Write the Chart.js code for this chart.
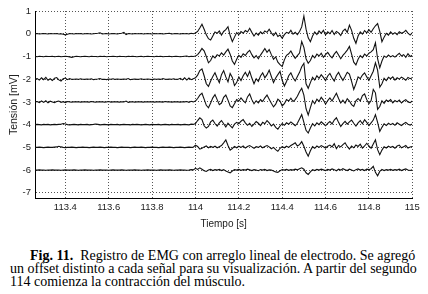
<!DOCTYPE html>
<html><head><meta charset="utf-8">
<script src="https://cdn.jsdelivr.net/npm/chart.js@4.4.1/dist/chart.umd.min.js"></script>
<style>
html,body{margin:0;padding:0;background:#fff;}
#wrap{position:absolute;left:0;top:0;width:428px;height:230px;}
#cap{position:absolute;left:10px;top:249px;width:403px;font-family:"Liberation Serif","Times New Roman",serif;font-size:14px;line-height:13px;color:#000;}
#cap div{white-space:nowrap;}
#cap .j{text-align:justify;text-align-last:justify;}
</style></head><body>
<div id="wrap"><canvas id="c" width="428" height="230"></canvas></div>
<div id="cap">
<div class="j" style="padding-left:20px"><b>Fig. 11.</b>&nbsp; Registro de EMG con arreglo lineal de electrodo. Se agregó</div>
<div class="j">un offset distinto a cada señal para su visualización. A partir del segundo</div>
<div>114 comienza la contracción del músculo.</div>
</div>
<script>
// Signal deviations in hundredths of mV, sampled every 0.01 s
// "Rest" = before 114 s (ends at 113.99 s), "Act" = 114.00 .. 115.00 s
const ch0Rest=[0,1,-1,0,1,0,-1,1,0,0,1,-1,0,-2,-5,-2,1,0,-1,1,0,1,-1,0,1,0,-1,0,1,2,4,-1,0,1,-1,0,1,0,-1,1,2,6,-4,1,0,-1,1,0,0,1,-1,0,1,0,-1,1,0,0,1,-1,0,1,2,-1,0,1,0,-1,1,0,1,-1,2,0];
const ch0Act=[3,10,25,42,20,-5,-22,-28,-10,8,2,12,-6,10,18,31,-8,-35,-15,5,-4,10,2,14,8,24,6,-10,3,-6,8,0,12,6,20,4,-8,5,-12,-6,-20,-4,6,2,15,-2,6,-4,10,30,78,20,-18,-35,-10,8,-4,12,2,15,-5,8,0,14,-3,10,4,-8,12,20,6,38,15,-20,-42,-10,8,-2,14,4,18,6,22,35,45,10,-35,-15,2,-6,8,-2,5,-4,9,2,6,15,3,-6,4];
const ch1Rest=[0,-1,1,0,-1,1,0,0,1,-1,0,1,-1,0,1,0,-2,-4,-1,1,0,-1,0,1,0,-1,1,0,0,-1,1,0,1,-1,0,0,1,0,-1,1,0,0,-1,1,0,1,0,-1,0,1,-1,0,1,0,0,-1,1,0,1,-1,0,0,1,-1,0,1,0,-1,0,1,2,-1,1,0];
const ch1Act=[2,8,20,35,25,0,-28,-18,2,-6,8,2,16,6,20,32,10,-20,-35,-12,5,-4,12,4,18,27,8,-6,4,-10,6,20,35,18,30,8,-12,-2,-25,-36,-44,-15,5,12,24,6,-8,4,15,66,40,-10,-30,-18,4,-6,10,2,14,-4,8,18,4,-6,10,22,6,-10,5,16,28,44,10,-25,-37,-12,4,-5,10,2,14,20,30,60,-10,-50,-20,2,-4,6,-2,4,-3,6,14,2,8,-4,12,0,5];
const ch2Rest=[0,3,-4,6,-2,8,-5,2,-6,4,7,-3,-8,2,5,-2,3,-1,0,1,-1,2,0,-1,1,0,2,-2,0,1,3,-1,0,-2,1,0,2,-1,1,0,-1,1,0,3,-2,0,1,-1,0,2,-1,0,1,0,-2,1,0,1,-1,3,0,-1,1,0,2,-1,0,4,-3,6,-4,5,-2,2];
const ch2Act=[6,18,38,45,15,-20,-32,-8,12,28,5,-15,20,38,10,-12,25,8,-28,-15,10,-6,15,30,12,35,5,-20,2,-10,14,28,6,20,40,12,-15,5,20,34,-5,-30,-10,15,28,6,-8,12,30,55,70,-20,-40,-15,8,-4,15,4,20,8,-6,14,25,6,-8,16,30,10,-5,12,30,22,-10,-45,-20,10,2,18,28,10,-5,15,35,72,40,-35,-20,4,-6,8,2,10,-4,6,0,9,3,-5,8,2,6];
const ch3Rest=[0,2,-3,4,-2,5,-4,3,0,-3,2,4,-2,1,-3,2,0,-1,1,0,1,-1,0,1,0,-1,2,0,-1,1,0,1,-1,0,2,-1,0,1,0,-1,1,0,4,-2,0,1,-1,0,1,0,-1,1,0,0,1,-1,0,1,0,-1,2,0,1,-1,0,1,0,-1,1,0,2,-2,3,0];
const ch3Act=[4,15,30,38,12,-15,-26,-5,18,32,10,-12,-5,20,30,8,-18,-25,-8,10,4,18,6,-4,22,35,10,-8,5,-4,10,2,18,30,12,-6,-22,-10,12,4,-18,-8,10,4,16,2,10,25,45,60,30,-30,-57,-25,5,-8,12,2,20,8,-10,6,18,4,22,38,15,-5,8,-6,14,4,-12,-20,5,15,4,28,35,10,-8,6,55,40,-33,-20,5,-6,8,2,10,-4,6,0,8,-5,4,10,0,-3,4];
const ch4Rest=[0,1,0,-1,1,0,1,-1,0,1,0,1,2,5,3,0,-1,0,1,0,-1,1,0,0,1,-1,0,1,3,1,-1,0,1,0,-1,1,0,0,1,-1,0,1,0,0,-1,1,0,1,0,-1,0,1,0,-1,1,0,0,1,-1,0,1,0,-1,1,0,0,1,-1,0,1,0,-1,2,1];
const ch4Act=[5,18,30,22,-5,-15,-8,12,20,5,-6,8,18,4,-10,6,-4,-14,2,10,4,15,22,8,-3,6,-8,2,14,6,-4,10,4,18,8,-6,2,-12,-20,-6,5,-3,8,2,12,4,-5,6,25,44,10,-25,-37,-15,4,-6,8,0,12,4,-5,6,14,3,20,30,10,-8,4,14,2,12,20,6,-6,8,18,4,22,10,-4,8,20,44,10,-30,-12,4,-4,6,0,5,-3,8,2,-4,4,10,2,-2,3];
const ch5Rest=[0,0,1,0,-1,0,1,0,0,1,2,5,2,0,-1,0,0,1,0,-1,0,0,1,0,0,-1,0,1,0,0,1,0,-1,0,0,1,0,0,-1,0,1,0,0,0,-1,0,1,0,0,1,0,-1,0,0,1,0,0,-1,0,1,0,0,1,0,-1,0,0,1,0,-1,0,1,0,1];
const ch5Act=[10,4,-8,-4,2,6,-2,4,0,5,-2,3,8,20,33,8,-12,-5,4,-2,5,0,6,-3,4,8,2,-4,3,0,6,-2,4,8,2,-6,0,-10,-17,-4,3,-2,5,0,8,14,20,6,12,25,5,-20,-39,-15,3,-4,6,0,8,3,-3,5,10,2,16,-6,8,2,12,20,4,-8,6,-2,10,4,14,-3,6,18,6,-4,15,33,-10,-32,-12,3,-3,5,0,4,-4,6,10,-2,3,8,-3,2,4];
const ch6Rest=[0,0,1,0,0,-1,0,0,1,0,0,0,-1,0,1,0,0,0,1,0,-1,0,0,1,0,0,0,-1,0,0,1,0,0,0,-1,0,1,0,0,0,1,0,-1,0,0,0,1,0,0,-1,0,0,1,0,0,0,-1,0,1,0,0,0,1,0,-1,0,0,1,0,0,-1,0,2,1];
const ch6Act=[8,3,10,4,-3,-6,0,3,-2,2,0,3,-2,2,-4,-8,-12,-4,2,0,3,-1,2,0,4,1,-2,2,0,-3,2,0,3,-2,1,0,-4,-8,-10,-3,2,0,3,-1,2,0,4,1,6,10,4,-12,-19,-8,2,-2,3,0,4,1,-2,3,0,5,2,-3,4,0,6,2,-2,4,0,-4,2,5,0,3,-2,4,2,6,17,-10,-25,-6,3,-2,2,0,3,-1,2,0,4,-2,2,5,0,-2,2];

const offsets=[0,-1,-2,-3,-4,-5,-6];
const onsetTime=114.0, sampleStep=0.01;
const xTickValues=[113.4,113.6,113.8,114,114.2,114.4,114.6,114.8,115];
const xTickLabels=['113.4','113.6','113.8','114','114.2','114.4','114.6','114.8','115'];
const yTickValues=[-7,-6,-5,-4,-3,-2,-1,0,1];
const yTickLabels=['-7','-6','-5','-4','-3','-2','-1','0','1'];

const rests=[ch0Rest,ch1Rest,ch2Rest,ch3Rest,ch4Rest,ch5Rest,ch6Rest];
const acts=[ch0Act,ch1Act,ch2Act,ch3Act,ch4Act,ch5Act,ch6Act];

const datasets=offsets.map((off,k)=>{
  const r=rests[k], a=acts[k];
  const pts=r.map((v,i)=>({x:+(onsetTime-sampleStep*(r.length-i)).toFixed(3),y:off+v/100}))
    .concat(a.map((v,j)=>({x:+(onsetTime+sampleStep*j).toFixed(3),y:off+v/100})));
  return {data:pts,borderColor:'#111',borderWidth:1.1,pointRadius:0,tension:0,fill:false};
});

const tickFont={family:'"Liberation Sans", Arial, sans-serif',size:9.5};
new Chart(document.getElementById('c'),{
  type:'line',
  data:{datasets},
  options:{
    responsive:false,animation:false,events:[],
    layout:{padding:{left:0,right:15.7,top:11,bottom:0}},
    plugins:{legend:{display:false},tooltip:{enabled:false}},
    scales:{
      x:{type:'linear',min:113.26,max:115,
        afterBuildTicks:s=>{s.ticks=xTickValues.map(v=>({value:v}));},
        afterFit:s=>{s.height=31.5;},
        ticks:{font:tickFont,color:'#222',padding:3,maxRotation:0,autoSkip:false,
          callback:(v,i)=>xTickLabels[i]},
        grid:{color:'#555',lineWidth:1,drawTicks:false},
        border:{display:true,color:'#000',width:1,dash:[1,2]},
        title:{display:true,text:'Tiempo [s]',font:{family:'"Liberation Sans", Arial, sans-serif',size:10},color:'#222',padding:{top:0,bottom:0}}
      },
      y:{type:'linear',min:-7.25,max:1,
        afterBuildTicks:s=>{s.ticks=yTickValues.map(v=>({value:v}));},
        afterFit:s=>{s.width=35;},
        ticks:{font:tickFont,color:'#222',padding:4,autoSkip:false,
          callback:(v,i)=>yTickLabels[i]},
        grid:{color:'#555',lineWidth:1,drawTicks:false},
        border:{display:true,color:'#000',width:1,dash:[1,2]},
        title:{display:true,text:'Tensión [mV]',font:{family:'"Liberation Sans", Arial, sans-serif',size:10.5},color:'#222',padding:{top:8,bottom:0}}
      }
    }
  }
});
</script>
</body></html>
